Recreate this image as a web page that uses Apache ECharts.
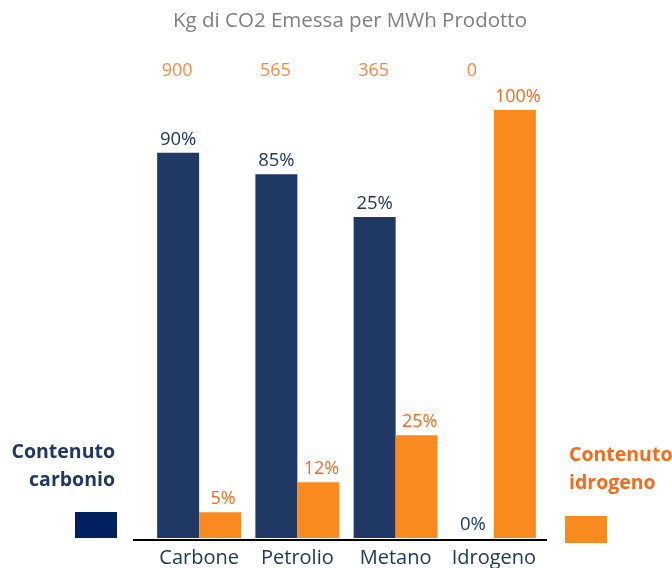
<!DOCTYPE html>
<html>
<head>
<meta charset="utf-8">
<script src="https://cdn.jsdelivr.net/npm/echarts@6/dist/echarts.min.js"></script>
<style>html,body{margin:0;padding:0;background:#fff;}#chart{width:672px;height:568px;}</style>
</head>
<body>
<div id="chart"></div>
<script>
const titleText = 'Kg di CO2 Emessa per MWh Prodotto';
const categories = ['Carbone', 'Petrolio', 'Metano', 'Idrogeno'];
const seriesNames = ['Contenuto carbonio', 'Contenuto idrogeno'];
const carbonValues = [90, 85, 75, 0];
const carbonLabels = ['90%', '85%', '25%', '0%'];
const hydrogenValues = [6, 13, 24, 100];
const hydrogenLabels = ['5%', '12%', '25%', '100%'];
const co2Values = ['900', '565', '365', '0'];

const NAVY_BAR = '#203864';
const NAVY_TEXT = '#1F3864';
const NAVY_LEGEND = '#002060';
const ORANGE_BAR = '#F98B1E';
const ORANGE_TEXT = '#F86A1A';
const FONT = '"Open Sans", "Noto Sans", sans-serif';

const chart = echarts.init(document.getElementById('chart'), null, {renderer: 'canvas'});
chart.setOption({
  animation: false,
  backgroundColor: '#ffffff',
  title: {
    text: titleText,
    left: 168,
    top: 6,
    textStyle: {color: '#7F7F7F', fontSize: 20.5, fontWeight: 'normal', fontFamily: FONT}
  },
  grid: {left: 150, right: 129, top: 110, bottom: 29, containLabel: false},
  legend: [
    {
      data: [{name: seriesNames[0], itemStyle: {color: NAVY_LEGEND}}],
      left: 75, top: 512, padding: 0,
      itemWidth: 42, itemHeight: 26, icon: 'rect',
      selectedMode: false, formatter: () => ''
    },
    {
      data: [{name: seriesNames[1], itemStyle: {color: ORANGE_BAR}}],
      left: 565, top: 516, padding: 0,
      itemWidth: 42, itemHeight: 27, icon: 'rect',
      selectedMode: false, formatter: () => ''
    }
  ],
  xAxis: {
    type: 'category',
    data: categories,
    axisLine: {show: false},
    axisTick: {show: false},
    axisLabel: {interval: 0, color: NAVY_TEXT, fontSize: 20, fontFamily: FONT, margin: 10}
  },
  yAxis: [
    {type: 'value', min: 0, max: 100, show: false},
    {type: 'value', min: 0, max: 1, show: false}
  ],
  series: [
    {
      name: seriesNames[0],
      type: 'bar',
      data: carbonValues,
      barWidth: 42,
      barGap: '0%',
      itemStyle: {color: NAVY_BAR},
      label: {
        show: true, position: 'top', distance: 4,
        color: NAVY_TEXT, fontSize: 18.5, fontFamily: FONT,
        formatter: p => carbonLabels[p.dataIndex]
      }
    },
    {
      name: seriesNames[1],
      type: 'bar',
      data: hydrogenValues,
      barWidth: 42,
      barGap: '0%',
      itemStyle: {color: ORANGE_BAR},
      label: {
        show: true, position: 'top', distance: 4, offset: [3, 0],
        color: ORANGE_TEXT, fontSize: 18, fontFamily: FONT,
        formatter: p => hydrogenLabels[p.dataIndex]
      }
    },
    {
      name: 'co2',
      type: 'scatter',
      yAxisIndex: 1,
      data: categories.map((c) => [c, 1]),
      symbolSize: 1,
      itemStyle: {color: 'rgba(0,0,0,0)'},
      silent: true,
      label: {
        show: true, position: 'inside', offset: [-22, -39],
        color: ORANGE_TEXT, fontSize: 18, fontFamily: FONT,
        formatter: p => co2Values[p.dataIndex]
      }
    }
  ],
  graphic: [
    {
      type: 'line', z: 10,
      shape: {x1: 133, y1: 540, x2: 547, y2: 540},
      style: {stroke: '#000000', lineWidth: 2}
    },
    {
      type: 'text',
      style: {
        text: 'Contenuto\ncarbonio', x: 115, y: 438,
        textAlign: 'right', textVerticalAlign: 'top',
        fill: NAVY_TEXT, fontSize: 19.5, fontWeight: 'bold', fontFamily: FONT, lineHeight: 28
      }
    },
    {
      type: 'text',
      style: {
        text: 'Contenuto\nidrogeno', x: 569, y: 441,
        textAlign: 'left', textVerticalAlign: 'top',
        fill: ORANGE_TEXT, fontSize: 19.5, fontWeight: 'bold', fontFamily: FONT, lineHeight: 28
      }
    }
  ]
});
</script>
</body>
</html>
